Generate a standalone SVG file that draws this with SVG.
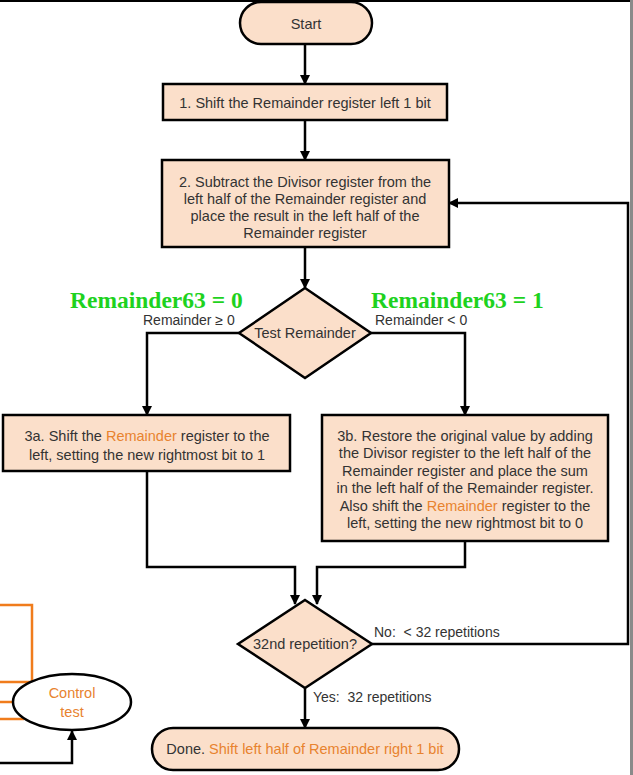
<svg xmlns="http://www.w3.org/2000/svg" width="633" height="775" viewBox="0 0 633 775">
<defs>
<style>
.box{fill:#fbdfca;stroke:#000;stroke-width:2.5}
.t{font-family:"Liberation Sans",Arial,sans-serif;font-size:14.5px;fill:#333;text-anchor:middle}
.lb{font-family:"Liberation Sans",Arial,sans-serif;font-size:14px;fill:#333;white-space:pre}
.or{fill:#e8832f}
.g{font-family:"Liberation Serif","Times New Roman",serif;font-size:23.5px;font-weight:bold;fill:#1ed21e}
.c{fill:none;stroke:#000;stroke-width:2.5}
.o{fill:none;stroke:#f07c1c;stroke-width:2.5}
</style>
<marker id="ah" viewBox="0 0 10 10" refX="9" refY="5" markerWidth="4" markerHeight="4" orient="auto" markerUnits="strokeWidth">
<path d="M0,0 L10,5 L0,10 z" fill="#000"/>
</marker>
</defs>
<rect x="0" y="0" width="633" height="775" fill="#fff"/>
<line x1="0" y1="1" x2="633" y2="1" stroke="#000" stroke-width="2"/>
<rect x="630" y="0" width="3" height="775" fill="#8a8a8a"/>

<g id="connectors">
<path class="c" d="M305,44 V84" marker-end="url(#ah)"/>
<path class="c" d="M305,120 V160" marker-end="url(#ah)"/>
<path class="c" d="M305,247 V288" marker-end="url(#ah)"/>
<path class="c" d="M239,333 H147 V415" marker-end="url(#ah)"/>
<path class="c" d="M371,333 H465 V415" marker-end="url(#ah)"/>
<path class="c" d="M147,471 V567 H295 V604" marker-end="url(#ah)"/>
<path class="c" d="M465,541 V567 H317 V604" marker-end="url(#ah)"/>
<path class="c" d="M372,644 H628 V203 H449" marker-end="url(#ah)"/>
<path class="c" d="M305,688 V728" marker-end="url(#ah)"/>
<path class="c" d="M0,763 H72 V731" marker-end="url(#ah)"/>
<path class="o" d="M0,605 H32 V682 H0"/>
<path class="o" d="M0,702 H14"/>
<path class="o" d="M0,719 H24"/>
</g>

<g id="start">
<rect class="box" x="240" y="2" width="132" height="42" rx="21"/>
<text class="t" x="306" y="29">Start</text>
</g>

<g id="step1">
<rect class="box" x="163" y="84" width="284" height="36"/>
<text class="t" x="305" y="108">1. Shift the Remainder register left 1 bit</text>
</g>

<g id="step2">
<rect class="box" x="162" y="160" width="287" height="87"/>
<text class="t" x="305" y="187">2. Subtract the Divisor register from the</text>
<text class="t" x="305" y="204">left half of the Remainder register and</text>
<text class="t" x="305" y="221">place the result in the left half of the</text>
<text class="t" x="305" y="238">Remainder register</text>
</g>

<g id="test">
<polygon class="box" points="305,288 371,333 305,378 239,333"/>
<text class="t" x="305" y="338">Test Remainder</text>
<text class="g" x="70" y="308">Remainder63 = 0</text>
<text class="g" x="371" y="308">Remainder63 = 1</text>
<text class="lb" x="143" y="325">Remainder ≥ 0</text>
<text class="lb" x="375" y="325">Remainder &lt; 0</text>
</g>

<g id="step3a">
<rect class="box" x="3" y="415" width="287" height="56"/>
<text class="t" x="147" y="441">3a. Shift the <tspan class="or">Remainder</tspan> register to the</text>
<text class="t" x="147" y="460">left, setting the new rightmost bit to 1</text>
</g>

<g id="step3b">
<rect class="box" x="322" y="415" width="286" height="126"/>
<text class="t" x="465" y="441">3b. Restore the original value by adding</text>
<text class="t" x="465" y="458">the Divisor register to the left half of the</text>
<text class="t" x="465" y="476">Remainder register and place the sum</text>
<text class="t" x="465" y="493">in the left half of the Remainder register.</text>
<text class="t" x="465" y="511">Also shift the <tspan class="or">Remainder</tspan> register to the</text>
<text class="t" x="465" y="528">left, setting the new rightmost bit to 0</text>
</g>

<g id="rep">
<polygon class="box" points="305,600 372,644 305,688 238,644"/>
<text class="t" x="305" y="649">32nd repetition?</text>
<text class="lb" x="374" y="637">No:  &lt; 32 repetitions</text>
<text class="lb" x="313" y="702">Yes:  32 repetitions</text>
</g>

<g id="done">
<rect class="box" x="152" y="728" width="307" height="42" rx="21"/>
<text class="t" x="305" y="754">Done. <tspan class="or">Shift left half of Remainder right 1 bit</tspan></text>
</g>

<g id="control">
<ellipse cx="72" cy="702" rx="59" ry="28" fill="#fff" stroke="#000" stroke-width="2.5"/>
<text class="t or" x="72" y="698">Control</text>
<text class="t or" x="72" y="717">test</text>
</g>
</svg>
